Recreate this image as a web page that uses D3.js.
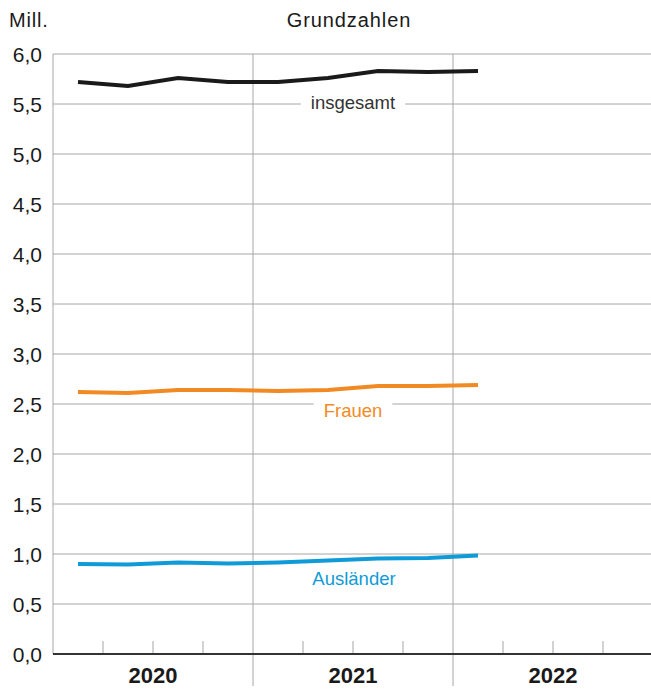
<!DOCTYPE html>
<html>
<head>
<meta charset="utf-8">
<script src="https://cdn.jsdelivr.net/npm/d3@7"></script>
<style>
  body { margin: 0; background: #fff; }
  text { font-family: "Liberation Sans", Arial, sans-serif; }
</style>
</head>
<body>
<div id="chart"></div>
<script>
// quarterly values, Q1 2020 .. Q1 2022
var quarters = ["2020Q1","2020Q2","2020Q3","2020Q4","2021Q1","2021Q2","2021Q3","2021Q4","2022Q1"];
var insgesamt = [5.72, 5.68, 5.76, 5.72, 5.72, 5.76, 5.83, 5.82, 5.83];
var frauen    = [2.62, 2.61, 2.64, 2.64, 2.63, 2.64, 2.68, 2.68, 2.69];
var auslaender = [0.90, 0.895, 0.915, 0.905, 0.915, 0.935, 0.955, 0.96, 0.985];
var years = ["2020", "2021", "2022"];
var yTicks = [0, 0.5, 1, 1.5, 2, 2.5, 3, 3.5, 4, 4.5, 5, 5.5, 6];

var width = 651, height = 689;
var margin = {top: 54, left: 53, bottom: 35};

var svg = d3.select("#chart").append("svg")
  .attr("width", width)
  .attr("height", height);

// x in quarters since start of 2020
var x = d3.scaleLinear().domain([0, 12]).range([margin.left, margin.left + 600]);
var y = d3.scaleLinear().domain([0, 6]).range([height - margin.bottom, margin.top]);

var fmt = function(v) { return d3.format(".1f")(v).replace(".", ","); };

// horizontal grid
svg.append("g").selectAll("line")
  .data(yTicks.filter(d => d > 0))
  .enter().append("line")
    .attr("x1", x(0)).attr("x2", width)
    .attr("y1", d => y(d)).attr("y2", d => y(d))
    .attr("stroke", "#a6a6a6").attr("stroke-width", 1);

// left border
svg.append("line")
  .attr("x1", x(0)).attr("x2", x(0))
  .attr("y1", y(6)).attr("y2", y(0))
  .attr("stroke", "#a6a6a6");

// year separators (run below axis)
svg.append("g").selectAll("line")
  .data([4, 8])
  .enter().append("line")
    .attr("x1", d => x(d)).attr("x2", d => x(d))
    .attr("y1", y(6)).attr("y2", y(0) + 32)
    .attr("stroke", "#a6a6a6");

// quarter ticks
svg.append("g").selectAll("line")
  .data([1, 2, 3, 5, 6, 7, 9, 10, 11])
  .enter().append("line")
    .attr("x1", d => x(d)).attr("x2", d => x(d))
    .attr("y1", y(0) - 13).attr("y2", y(0))
    .attr("stroke", "#a6a6a6");

// zero axis
svg.append("line")
  .attr("x1", x(0)).attr("x2", width)
  .attr("y1", y(0)).attr("y2", y(0))
  .attr("stroke", "#333").attr("stroke-width", 2);

// y labels
svg.append("g").selectAll("text")
  .data(yTicks)
  .enter().append("text")
    .attr("x", 42)
    .attr("y", d => y(d))
    .attr("dy", "0.36em")
    .attr("text-anchor", "end")
    .attr("font-size", 21)
    .attr("fill", "#1a1a1a")
    .text(fmt);

// year labels
svg.append("g").selectAll("text")
  .data(years)
  .enter().append("text")
    .attr("x", (d, i) => x(i * 4 + 2))
    .attr("y", y(0) + 29)
    .attr("text-anchor", "middle")
    .attr("font-size", 22)
    .attr("font-weight", "bold")
    .attr("fill", "#1a1a1a")
    .text(d => d);

// header
svg.append("text").attr("x", 9).attr("y", 27)
  .attr("font-size", 20).attr("letter-spacing", 0.8)
  .attr("fill", "#1a1a1a").text("Mill.");
svg.append("text").attr("x", 349).attr("y", 27)
  .attr("text-anchor", "middle")
  .attr("font-size", 20).attr("letter-spacing", 0.9)
  .attr("fill", "#1a1a1a").text("Grundzahlen");

// lines
var line = d3.line()
  .x((d, i) => x(i + 0.5))
  .y(d => y(d));

var series = [
  {name: "insgesamt", values: insgesamt, color: "#1a1a1a", lx: 353, ly: 102, tc: "#333"},
  {name: "Frauen", values: frauen, color: "#f28a24", lx: 353, ly: 410, tc: "#f28a24"},
  {name: "Ausländer", values: auslaender, color: "#0f9bd7", lx: 354, ly: 578, tc: "#0f9bd7"}
];

series.forEach(function(s) {
  svg.append("path")
    .datum(s.values)
    .attr("d", line)
    .attr("fill", "none")
    .attr("stroke", s.color)
    .attr("stroke-width", 4);

  var g = svg.append("g");
  var t = g.append("text")
    .attr("x", s.lx).attr("y", s.ly)
    .attr("dy", "0.36em")
    .attr("text-anchor", "middle")
    .attr("font-size", 18.5)
    .attr("fill", s.tc)
    .text(s.name);
  var bb = t.node().getBBox();
  g.insert("rect", "text")
    .attr("x", bb.x - 10).attr("y", bb.y)
    .attr("width", bb.width + 20).attr("height", bb.height)
    .attr("fill", "#fff");
});
</script>
</body>
</html>
